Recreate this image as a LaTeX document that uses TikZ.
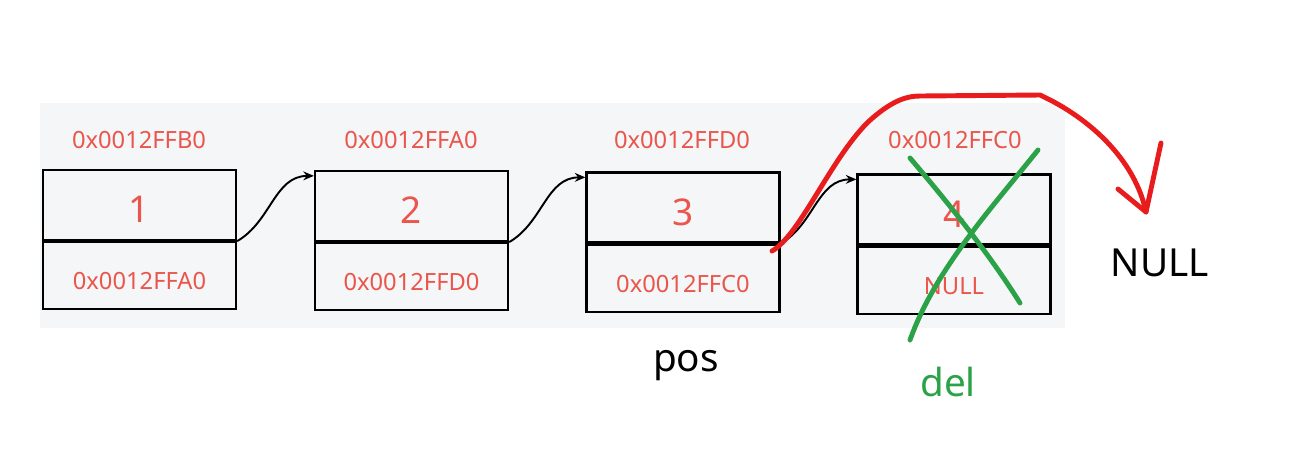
\documentclass[tikz,border=0pt]{standalone}
\usepackage{fontspec}
\setmainfont{Noto Sans}
\usetikzlibrary{arrows.meta,positioning}
\definecolor{panel}{RGB}{245,246,248}
\definecolor{addr}{RGB}{234,86,76}
\definecolor{pen}{RGB}{232,28,28}
\definecolor{cross}{RGB}{44,162,72}

\begin{document}
\begin{tikzpicture}[x=0.02cm,y=-0.02cm,
  top/.style={draw, line width=1.3pt, minimum width=3.86cm, minimum height=1.4cm, inner sep=0pt,
    text=addr, font=\fontsize{21}{24}\selectfont, text height=0.7cm, text depth=0pt},
  bot/.style={draw, line width=1.3pt, minimum width=3.86cm, minimum height=1.34cm, inner sep=0pt,
    text=addr, font=\fontsize{13.5}{16}\selectfont, text height=0.56cm, text depth=0pt},
  addrlbl/.style={text=addr, font=\fontsize{13.5}{16}\selectfont},
  big/.style={font=\fontsize{22}{26}\selectfont},
  link/.style={-{Stealth[length=6pt,width=5pt]}, line width=1.1pt}]
\useasboundingbox (0,0) rectangle (1306,451);

% Panel behind the list
\fill[panel] (40,103) rectangle (1065,328);

% Nodes of the list
\node[top] (n1) at (139.5,205) {1};
\node[bot, below=0pt of n1] (a1) {0x0012FFA0};
\node[top] (n2) at (411.5,206) {2};
\node[bot, below=0pt of n2] (a2) {0x0012FFD0};
\node[top] (n3) at (683,207.5) {3};
\node[bot, below=0pt of n3] (a3) {0x0012FFC0};
\node[top] (n4) at (954,209.5) {4};
\node[bot, below=0pt of n4] (a4) {NULL};

% Addresses
\node[addrlbl] (h1) at (139,140) {0x0012FFB0};
\node[addrlbl] (h2) at (411,140) {0x0012FFA0};
\node[addrlbl] (h3) at (682,140) {0x0012FFD0};
\node[addrlbl] (h4) at (955,140) {0x0012FFC0};

% Next pointers
\draw[link] (a1.north east) to[out=30,in=180] ([yshift=-0.12cm]n2.north west);
\draw[link] (a2.north east) to[out=30,in=180] ([yshift=-0.12cm]n3.north west);
\draw[link] (a3.north east) to[out=30,in=180] ([yshift=-0.12cm]n4.north west);

% Labels
\node[big] (nul) at (1160,263) {NULL};
\node[big] (pos) at (686,366) {pos};
\node[big, text=cross] (del) at (948,382) {del};

% New link of pos, past del
\coordinate (from) at (772,251);
\coordinate (tip) at (1146,212);
\draw[pen, line width=2.8pt, line cap=round, line join=round]
  (from) .. controls (800,235) and (830,160) .. (868,122)
  .. controls (890,102) and (905,96) .. (920,96) -- (1040,95)
  .. controls (1090,118) and (1135,160) .. (tip);
\draw[pen, line width=2.8pt, line cap=round, line join=round]
  (1118,189) -- (tip) -- (1161,143);

% Cross over del
\draw[cross, line width=2.8pt, line cap=round]
  (910,158) .. controls (950,205) and (990,255) .. (1020,303);
\draw[cross, line width=2.8pt, line cap=round]
  (1038,150) .. controls (990,210) and (935,270) .. (910,340);
\end{tikzpicture}
\end{document}
